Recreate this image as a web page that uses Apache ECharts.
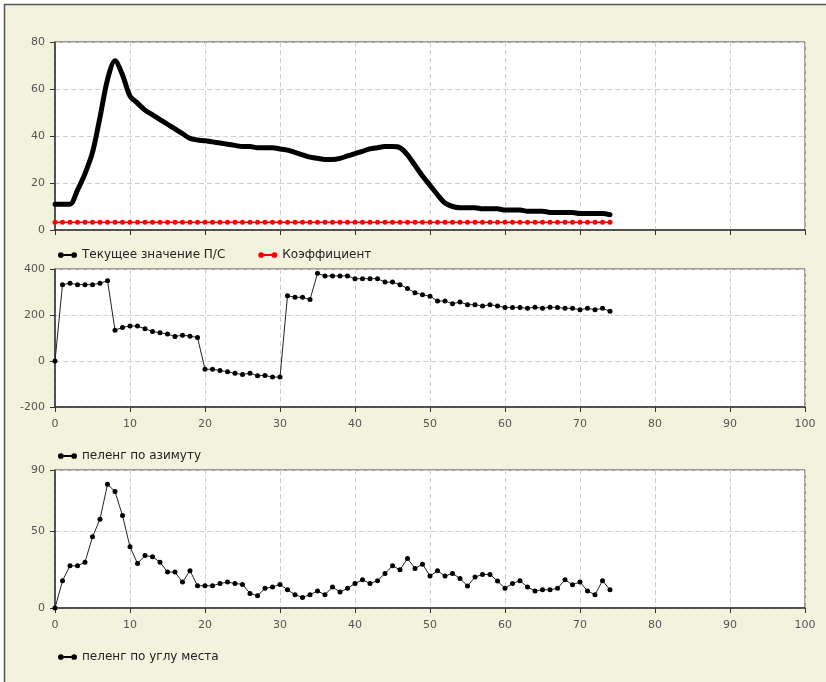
<!DOCTYPE html>
<html>
<head>
<meta charset="utf-8">
<script src="https://cdn.jsdelivr.net/npm/echarts@6/dist/echarts.min.js"></script>
<style>
    html, body { margin: 0; padding: 0; background: #fff; }
    #main { width: 826px; height: 682px; }
</style>
</head>
<body>
<div id="main"></div>
<script>
// измерения: номер отсчёта 0..74
var psValues = [11, 11, 11, 17, 24, 33, 48, 64, 72, 66,
    57, 54, 51, 49, 47, 45, 43, 41, 39, 38.3,
    38, 37.5, 37, 36.5, 36, 35.5, 35.5, 35, 35, 35,
    34.5, 34, 33, 32, 31, 30.5, 30, 30, 30.5, 31.5,
    32.5, 33.5, 34.5, 35, 35.5, 35.5, 35, 32, 27.5, 23,
    19, 15, 11.5, 10, 9.5, 9.5, 9.5, 9, 9, 9,
    8.5, 8.5, 8.5, 8, 8, 8, 7.5, 7.5, 7.5, 7.5,
    7, 7, 7, 7, 6.5];
var coefValues = [3.3, 3.3, 3.3, 3.3, 3.3, 3.3, 3.3, 3.3, 3.3, 3.3,
    3.3, 3.3, 3.3, 3.3, 3.3, 3.3, 3.3, 3.3, 3.3, 3.3,
    3.3, 3.3, 3.3, 3.3, 3.3, 3.3, 3.3, 3.3, 3.3, 3.3,
    3.3, 3.3, 3.3, 3.3, 3.3, 3.3, 3.3, 3.3, 3.3, 3.3,
    3.3, 3.3, 3.3, 3.3, 3.3, 3.3, 3.3, 3.3, 3.3, 3.3,
    3.3, 3.3, 3.3, 3.3, 3.3, 3.3, 3.3, 3.3, 3.3, 3.3,
    3.3, 3.3, 3.3, 3.3, 3.3, 3.3, 3.3, 3.3, 3.3, 3.3,
    3.3, 3.3, 3.3, 3.3, 3.3];
var azimuthValues = [0, 332, 338, 332, 332, 332, 338, 349, 134, 146,
    152, 152, 140, 128, 123, 117, 107, 112, 108, 102,
    -36, -36, -41, -47, -53, -59, -53, -64, -63, -70,
    -70, 284, 277, 277, 267, 381, 370, 370, 370, 370,
    358, 358, 358, 358, 343, 343, 332, 315, 297, 288,
    282, 261, 261, 249, 256, 245, 245, 239, 245, 239,
    233, 233, 233, 229, 234, 229, 234, 233, 229, 229,
    223, 229, 223, 229, 216];
var elevationValues = [0, 17.8, 27.5, 27.5, 29.9, 46.4, 57.9, 80.7, 75.9, 60.3,
    39.9, 29, 34.2, 33.4, 29.9, 23.4, 23.4, 16.9, 24.3, 14.5,
    14.5, 14.5, 16, 16.9, 16, 15.4, 9.5, 8, 12.8, 13.7,
    15.4, 11.9, 8.7, 6.9, 8.7, 11.1, 8.7, 13.7, 10.4, 12.8,
    16, 18.4, 16, 17.8, 22.5, 27.5, 24.9, 32.3, 25.8, 28.6,
    20.8, 24.3, 20.8, 22.5, 19.3, 14.3, 20.2, 21.9, 21.9, 17.6,
    12.8, 16, 17.8, 13.7, 11.1, 11.9, 11.9, 12.8, 18.4, 15.2,
    16.9, 11.1, 8.7, 17.8, 11.9];

var seriesNames = ['Текущее значение П/С', 'Коэффициент', 'пеленг по азимуту', 'пеленг по углу места'];

function pairs(arr) {
    return arr.map(function (v, i) { return [i, v]; });
}

var font = 'DejaVu Sans';
// значок легенды: точка - линия - точка
var dotIcon = 'path://M0,3a3,3 0 1,0 6,0a3,3 0 1,0 -6,0zM14,3a3,3 0 1,0 6,0a3,3 0 1,0 -6,0zM6,2h8v2h-8z';

var dashed = { show: true, lineStyle: { color: '#cfcfcf', type: [5, 3], width: 1 } };

function makeX(i, showLabel) {
    return {
        type: 'value', gridIndex: i, min: 0, max: 100, interval: 10,
        axisLine: { show: true, onZero: false, lineStyle: { color: '#333', width: 1.5 } },
        axisTick: { show: true, length: 5, lineStyle: { color: '#333' } },
        axisLabel: { show: showLabel, color: '#555', fontFamily: font, fontSize: 11, margin: 12 },
        splitLine: dashed
    };
}
function makeY(i, min, max, interval) {
    return {
        type: 'value', gridIndex: i, min: min, max: max, interval: interval,
        axisLine: { show: true, lineStyle: { color: '#333', width: 1.5 } },
        axisTick: { show: true, length: 5, lineStyle: { color: '#333' } },
        axisLabel: { color: '#555', fontFamily: font, fontSize: 11, margin: 10 },
        splitLine: dashed
    };
}
function makeGrid(top, height) {
    return {
        left: 55, top: top, width: 750, height: height, show: true,
        backgroundColor: '#fff', borderColor: '#444', borderWidth: 1
    };
}
function makeLegend(top, items, gap) {
    return {
        left: 58, top: top, padding: 0, itemWidth: 19, itemHeight: 6, itemGap: gap || 10,
        textStyle: { color: '#222', fontFamily: font, fontSize: 12 },
        data: items
    };
}

var option = {
    animation: false,
    backgroundColor: '#fff',
    graphic: [
        {
            type: 'rect', z: -100, silent: true,
            shape: { x: 4, y: 4, width: 830, height: 690 },
            style: { fill: '#f3f2dc' }
        },
        {
            type: 'polyline', z: -99, silent: true,
            shape: { points: [[4.5, 690], [4.5, 4.5], [830, 4.5]] },
            style: { stroke: '#555', lineWidth: 1.5, fill: null }
        }
    ],
    grid: [makeGrid(42, 188), makeGrid(269, 138), makeGrid(470, 138)],
    xAxis: [makeX(0, false), makeX(1, true), makeX(2, true)],
    yAxis: [makeY(0, 0, 80, 20), makeY(1, -200, 400, 200), makeY(2, 0, 90, 50)],
    legend: [
        makeLegend(249, [
            { name: seriesNames[0], icon: dotIcon, itemStyle: { color: '#000' } },
            { name: seriesNames[1], icon: dotIcon, itemStyle: { color: '#f00' } }
        ], 33),
        makeLegend(450, [{ name: seriesNames[2], icon: dotIcon, itemStyle: { color: '#000' } }]),
        makeLegend(651, [{ name: seriesNames[3], icon: dotIcon, itemStyle: { color: '#000' } }])
    ],
    series: [
        {
            name: seriesNames[0], type: 'line', xAxisIndex: 0, yAxisIndex: 0,
            data: pairs(psValues), smooth: 0.3, showSymbol: false,
            lineStyle: { color: '#000', width: 5, cap: 'round', join: 'round' },
            itemStyle: { color: '#000' }
        },
        {
            name: seriesNames[1], type: 'line', xAxisIndex: 0, yAxisIndex: 0,
            data: pairs(coefValues), symbol: 'circle', symbolSize: 5,
            lineStyle: { color: '#f00', width: 1.5 },
            itemStyle: { color: '#f00' }
        },
        {
            name: seriesNames[2], type: 'line', xAxisIndex: 1, yAxisIndex: 1,
            data: pairs(azimuthValues), symbol: 'circle', symbolSize: 5,
            lineStyle: { color: '#222', width: 1 },
            itemStyle: { color: '#000' }
        },
        {
            name: seriesNames[3], type: 'line', xAxisIndex: 2, yAxisIndex: 2,
            data: pairs(elevationValues), symbol: 'circle', symbolSize: 5,
            lineStyle: { color: '#222', width: 1 },
            itemStyle: { color: '#000' }
        }
    ]
};

var myChart = echarts.init(document.getElementById('main'));
myChart.setOption(option);
</script>
</body>
</html>
